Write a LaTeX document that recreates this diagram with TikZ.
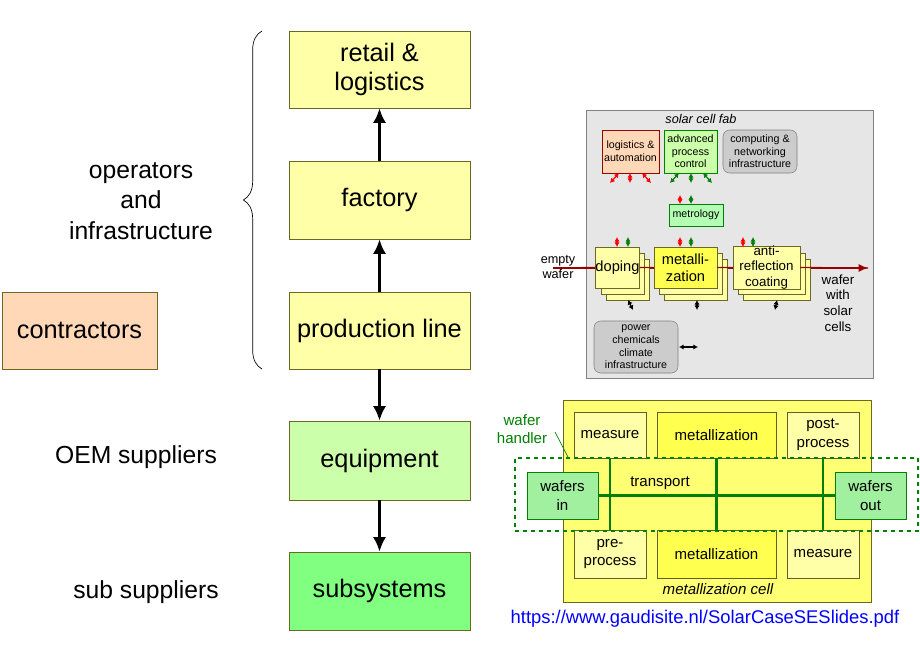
\documentclass[tikz,border=0pt]{standalone}
\usepackage{fontspec}
\setmainfont{Liberation Sans}
\usetikzlibrary{arrows.meta,decorations.pathreplacing}
\definecolor{ly}{HTML}{FFFFA8}
\definecolor{yy}{HTML}{FFFF50}
\definecolor{lg}{HTML}{CCFFAA}
\definecolor{mg}{HTML}{80FF80}
\definecolor{wg}{HTML}{A0F0A0}
\definecolor{or}{HTML}{FFD8B8}
\definecolor{dg}{HTML}{008000}
\definecolor{gb}{HTML}{E6E6E6}
\definecolor{gr}{HTML}{CCCCCC}
\definecolor{dr}{HTML}{990000}
\begin{document}
\begin{tikzpicture}[x=0.75pt,y=-0.75pt,
  big/.style={draw=olive!70!black,line width=0.4pt,font=\fontsize{19}{22}\selectfont,align=center,inner sep=0pt},
  lab/.style={font=\fontsize{18.5}{23}\selectfont,align=center},
  arr/.style={-{Latex[length=11pt,width=10pt]},line width=2.2pt},
  sm/.style={font=\fontsize{8}{9.5}\selectfont,align=center,inner sep=0pt},
  cell/.style={draw=olive!60!black,line width=0.4pt,font=\fontsize{11.3}{14}\selectfont,align=center,inner sep=0pt},
  da/.style={{Latex[length=3.5pt,width=4pt]}-{Latex[length=3.5pt,width=4pt]},line width=0.9pt},
  stk/.style={draw=olive!70!black,fill=ly,line width=0.4pt}]
\useasboundingbox (0,0) rectangle (920,660);
% left column
\node[big,fill=ly,minimum width=181*0.75pt,minimum height=77*0.75pt] (ret) at (379.5,69.5) {retail \&\\logistics};
\node[big,fill=ly,minimum width=181*0.75pt,minimum height=78*0.75pt] (fac) at (379.5,200) {factory};
\node[big,fill=ly,minimum width=181*0.75pt,minimum height=77*0.75pt] (pl) at (379.5,330.5) {production line};
\node[big,fill=lg,minimum width=181*0.75pt,minimum height=79*0.75pt] (eq) at (379.5,460.5) {equipment};
\node[big,fill=mg,minimum width=181*0.75pt,minimum height=78*0.75pt] (sub) at (379.5,591) {subsystems};
\node[big,fill=or,minimum width=155*0.75pt,minimum height=77*0.75pt] (con) at (79.5,330.5) {contractors};
\draw[arr] (pl) -- (fac);
\draw[arr] (fac) -- (ret);
\draw[arr] (pl) -- (eq);
\draw[arr] (eq) -- (sub);
\draw[decorate,decoration={brace,amplitude=14pt},line width=0.5pt] (262,369) -- (262,31);
\node[lab] (opi) at (141,201) {operators\\and\\infrastructure};
\node[lab] (oem) at (136,457) {OEM suppliers};
\node[lab] (ss) at (146,592) {sub suppliers};
% solar cell fab
\node[draw=gray,fill=gb,minimum width=287*0.75pt,minimum height=268*0.75pt,inner sep=0pt] (fab) at (729.5,244) {};
\node[font=\fontsize{9.5}{11}\selectfont\itshape] (fabt) at (701,119) {solar cell fab};
\node[sm,draw=dr,fill=or,minimum width=57*0.75pt,minimum height=43*0.75pt] (log) at (630.5,151.5) {logistics \&\\automation};
\node[sm,draw=dg,fill=lg,minimum width=53*0.75pt,minimum height=43*0.75pt] (apc) at (690.5,151.5) {advanced\\process\\control};
\node[sm,draw=gray,fill=gr,rounded corners=5pt,minimum width=74*0.75pt,minimum height=43*0.75pt] (cni) at (760,151.5) {computing \&\\networking\\infrastructure};
\node[sm,draw=dg,fill=mg!60,minimum width=54*0.75pt,minimum height=22*0.75pt] (met) at (696,215) {metrology};
\node[sm,draw=gray,fill=gr,rounded corners=5pt,minimum width=84*0.75pt,minimum height=52*0.75pt] (pow) at (636,347) {power\\chemicals\\climate\\infrastructure};
\coordinate (pa) at (679,347); \coordinate (pb) at (698,347);
\draw[da] (pa) -- (pb);
\coordinate (ew) at (553,268); \coordinate (we) at (868,268);
\draw[dr,line width=1pt,-{Latex[length=7pt,width=6pt]}] (ew) -- (we);
\foreach \x/\y/\w in {596/247/43,654/247/63,733/247/67}{
  \draw[stk] (\x+10,\y+12) rectangle +(\w,41);
  \draw[stk] (\x+5,\y+6) rectangle +(\w,41);
}
\node[font=\fontsize{11}{12.5}\selectfont,draw=olive!70!black,fill=ly,minimum width=43*0.75pt,minimum height=41*0.75pt,inner sep=0pt] (dop) at (617.5,267.5) {doping};
\node[font=\fontsize{11}{12.5}\selectfont,align=center,draw=olive!70!black,fill=yy,minimum width=63*0.75pt,minimum height=41*0.75pt,inner sep=0pt] (mz) at (685.5,267.5) {metalli-\\zation};
\node[font=\fontsize{10}{11.5}\selectfont,align=center,draw=olive!70!black,fill=ly,minimum width=67*0.75pt,minimum height=41*0.75pt,inner sep=0pt] (arc) at (766.5,267.5) {anti-\\reflection\\coating};
\draw[dr,line width=1pt] (ew) -- (dop.west) (dop.east) -- (mz.west) (mz.east) -- (arc.west) (arc.east) -- (we);
\node[font=\fontsize{9.5}{11.5}\selectfont,align=center] (ewl) at (558,267) {empty\\wafer};
\node[font=\fontsize{10}{11.8}\selectfont,align=center] (wsc) at (838,303) {wafer\\with\\solar\\cells};
\foreach \a/\b/\c/\d/\col in {619/173/610/183/red,630/173/630/183/red,642/173/651/183/red,
  679/173/670/183/dg,691/173/691/183/dg,703/173/712/183/dg,
  680/195/680/204/red,691/195/691/204/dg,
  617/237/617/247/red,628/237/628/247/dg,680/237/680/247/red,691/237/691/247/dg,743/237/743/247/red,753/237/753/247/dg,
  628/300/633/310/black,697/300/697/310/black,777/300/775/310/black}{
  \draw[da,\col] (\a,\b) -- (\c,\d);
}
% metallization cell
\node[draw=olive!70!black,fill=yy!80,minimum width=308*0.75pt,minimum height=202*0.75pt,inner sep=0pt] (mc) at (717,501) {};
\node[cell,fill=ly,minimum width=72*0.75pt,minimum height=46*0.75pt] (m1) at (610,435) {measure};
\node[cell,fill=yy,minimum width=119*0.75pt,minimum height=46*0.75pt] (m2) at (716.5,435) {metallization};
\node[cell,fill=ly,minimum width=72*0.75pt,minimum height=46*0.75pt] (m3) at (823,435) {post-\\process};
\node[cell,fill=ly,minimum width=72*0.75pt,minimum height=48*0.75pt] (m4) at (610,554) {pre-\\process};
\node[cell,fill=yy,minimum width=119*0.75pt,minimum height=48*0.75pt] (m5) at (716.5,554) {metallization};
\node[cell,fill=ly,minimum width=72*0.75pt,minimum height=48*0.75pt] (m6) at (823,554) {measure};
\node[font=\fontsize{11.3}{13}\selectfont\itshape] (mct) at (718,589) {metallization cell};
\node[draw=dg,dashed,line width=1pt,minimum width=403*0.75pt,minimum height=73*0.75pt,inner sep=0pt] (wh) at (716.5,494.5) {};
\node[cell,draw=dg,fill=wg,minimum width=71*0.75pt,minimum height=47*0.75pt] (win) at (562.5,495.5) {wafers\\in};
\node[cell,draw=dg,fill=wg,minimum width=71*0.75pt,minimum height=47*0.75pt] (wout) at (870.5,495.5) {wafers\\out};
\draw[dg,line width=2.2pt] (win.east) -- (wout.west);
\draw[dg,line width=2.2pt] (m1.south) -- (m4.north) (m2.south) -- (m5.north) (m3.south) -- (m6.north);
\node[font=\fontsize{11.3}{13}\selectfont] (tr) at (660,483) {transport};
\node[font=\fontsize{11.3}{14}\selectfont,text=dg,align=center] (whl) at (522,429) {wafer\\handler};
\coordinate (whp) at (569,459);
\draw[dg,line width=0.5pt] (555,432) -- (whp);
\node[font=\fontsize{13.8}{16}\selectfont,text=blue] (url) at (705,619) {https://www.gaudisite.nl/SolarCaseSESlides.pdf};
\end{tikzpicture}
\end{document}
